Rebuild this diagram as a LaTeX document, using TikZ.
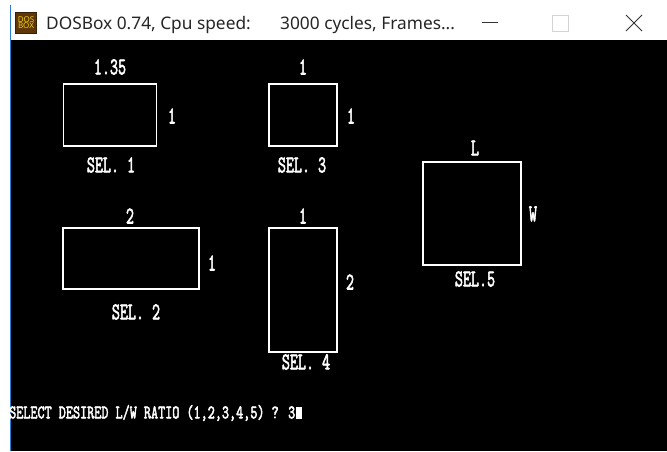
\documentclass[tikz,border=0pt]{standalone}
\usepackage{fontspec}
\setmainfont{Noto Sans}
\newfontfamily\dosfont{Latin Modern Mono}[FakeBold=3]
\definecolor{ScreenColor}{HTML}{000000}
\definecolor{DrawColor}{HTML}{FFFFFF}
\definecolor{BorderColor}{HTML}{2A7FD4}
\definecolor{IconColor}{HTML}{5E3608}
\definecolor{IconText}{HTML}{F2CC10}
\definecolor{ButtonColor}{HTML}{D4D4D4}
\tikzstyle{sel_box}=[rectangle,
                     draw=DrawColor,
                     line width=1.6pt,
                     inner sep=0pt, ]
\tikzstyle{dos_label}=[text=DrawColor,
                       font=\fontsize{24}{24}\dosfont,
                       xscale=0.65,
                       inner sep=0pt, ]
\tikzstyle{dos_prompt}=[text=DrawColor,
                        font=\fontsize{19}{19}\dosfont,
                        xscale=0.725,
                        inner sep=0pt,
                        anchor=west, ]
\tikzstyle{title_text}=[text=black!85,
                        font=\fontsize{17.3}{18}\selectfont,
                        inner sep=0pt,
                        anchor=base west, ]

\begin{document}
\begin{tikzpicture}[x=1pt, y=-1pt]
    \useasboundingbox (0,0) rectangle (667,451);
    % ---------------------------------------------------------------------------------------------------------
    %  Window
    \fill[white] (0,0) rectangle (667,451);
    \fill[ScreenColor] (11,39.5) rectangle (667,451);
    \draw[BorderColor, line width=1pt] (10.5,5) -- (10.5,451);

    \node at (26, 22.5) (Icon) [rectangle, fill=IconColor, draw=IconColor!60!black, line width=1pt, minimum width=21pt, minimum height=21pt, inner sep=0pt,
        text=IconText, font=\fontsize{8}{8}\selectfont\bfseries, align=center] {DOS\\[-1.5pt]BOX};
    \node at (46, 29.5) (Title1) [title_text] {DOSBox 0.74, Cpu speed:};
    \node at (280, 29.5) (Title2) [title_text] {3000 cycles, Frames...};

    \draw[black!80, line width=0.9pt] (482,22.5) -- (498,22.5);
    \draw[ButtonColor, line width=0.9pt] (552,15) rectangle (568,31);
    \draw[black!80, line width=0.9pt] (626,15) -- (642,31);
    \draw[black!80, line width=0.9pt] (626,31) -- (642,15);

    % ---------------------------------------------------------------------------------------------------------
    %  Boxes
    \node at (110, 115) (S1) [sel_box, minimum width=93pt, minimum height=62pt] {};
    \node at (131, 258.5) (S2) [sel_box, minimum width=136pt, minimum height=61pt] {};
    \node at (303, 115) (S3) [sel_box, minimum width=68pt, minimum height=62pt] {};
    \node at (303, 290) (S4) [sel_box, minimum width=68pt, minimum height=124pt] {};
    \node at (472, 213.5) (S5) [sel_box, minimum width=98pt, minimum height=103pt] {};

    \node at (110, 67) (S1top) [dos_label] {1.35};
    \node at (172, 116) (S1side) [dos_label] {1};
    \node at (111, 165) (S1name) [dos_label] {SEL. 1};

    \node at (130, 216) (S2top) [dos_label] {2};
    \node at (212, 263) (S2side) [dos_label] {1};
    \node at (136, 312) (S2name) [dos_label] {SEL. 2};

    \node at (303, 67) (S3top) [dos_label] {1};
    \node at (351, 116) (S3side) [dos_label] {1};
    \node at (302, 165) (S3name) [dos_label] {SEL. 3};

    \node at (303, 216) (S4top) [dos_label] {1};
    \node at (350, 282) (S4side) [dos_label] {2};
    \node at (306, 362) (S4name) [dos_label] {SEL. 4};

    \node at (475, 148) (S5top) [dos_label] {L};
    \node at (533, 214) (S5side) [dos_label] {W};
    \node at (475, 279) (S5name) [dos_label] {SEL.5};

    % ---------------------------------------------------------------------------------------------------------
    %  Prompt
    \node at (9, 413) (Prompt) [dos_prompt] {SELECT DESIRED L/W RATIO (1,2,3,4,5) ? 3};
    \fill[DrawColor] (296,407) rectangle (302,419);
\end{tikzpicture}
\end{document}
